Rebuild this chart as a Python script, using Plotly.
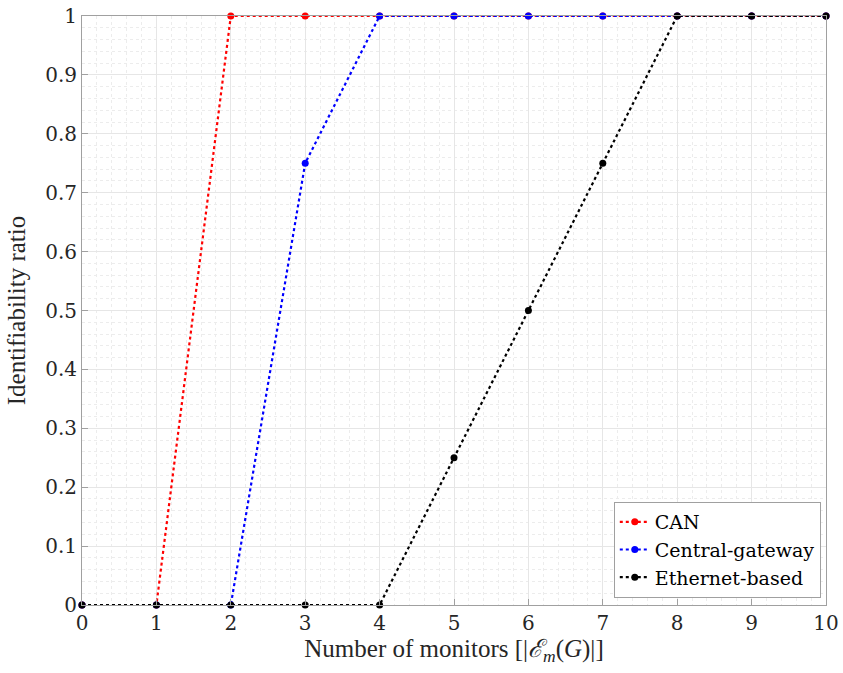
import plotly.graph_objects as go

x = list(range(11))
can = [0, 0, 1, 1, 1, 1, 1, 1, 1, 1, 1]
central = [0, 0, 0, 0.75, 1, 1, 1, 1, 1, 1, 1]
ethernet = [0, 0, 0, 0, 0, 0.25, 0.5, 0.75, 1, 1, 1]

names = ["CAN", "Central-gateway", "Ethernet-based"]
colors = ["#ff0000", "#0000ff", "#000000"]
series = [can, central, ethernet]

fig = go.Figure()
for n, c, s in zip(names, colors, series):
    fig.add_trace(go.Scatter(
        x=x, y=s, name=n, mode="lines+markers",
        line=dict(color=c, width=2.2, dash="dot"),
        marker=dict(color=c, size=7),
        cliponaxis=False,
    ))

axis_common = dict(
    showline=True, linecolor="#a0a0a0", linewidth=1, mirror=True,
    ticks="inside", ticklen=6, tickcolor="#a0a0a0",
    showgrid=True, gridcolor="#e6e6e6", gridwidth=1,
    zeroline=False,
    tickfont=dict(family="DejaVu Serif", size=20, color="#262626"),
)

fig.update_layout(
    template="none",
    width=843, height=673,
    margin=dict(l=82, r=17, t=16, b=68, autoexpand=False),
    paper_bgcolor="white", plot_bgcolor="white",
    font=dict(family="Liberation Serif", color="#262626", size=21),
    xaxis=dict(range=[0, 10], dtick=1,
               minor=dict(dtick=0.2, showgrid=True, gridcolor="#ececec", griddash="dot", ticks=""),
               title=dict(text="Number of monitors [|<i>ℰ</i><sub><i>m</i></sub>(<i>G</i>)|]",
                          font=dict(family="Liberation Serif", size=25, color="#262626"), standoff=4),
               **axis_common),
    yaxis=dict(range=[0, 1], tickvals=[i / 10 for i in range(11)],
               ticktext=["0", "0.1", "0.2", "0.3", "0.4", "0.5", "0.6", "0.7", "0.8", "0.9", "1"],
               minor=dict(dtick=0.02, showgrid=True, gridcolor="#ececec", griddash="dot", ticks=""),
               title=dict(text="Identifiability ratio",
                          font=dict(family="Liberation Serif", size=25, color="#262626"), standoff=12),
               **axis_common),
    legend=dict(x=0.993, y=0.012, xanchor="right", yanchor="bottom",
                bgcolor="white", bordercolor="#a0a0a0", borderwidth=1,
                font=dict(family="DejaVu Serif", size=19, color="#000000"),
                itemwidth=30, tracegroupgap=0),
    showlegend=True,
)

fig.write_html("out.html")
